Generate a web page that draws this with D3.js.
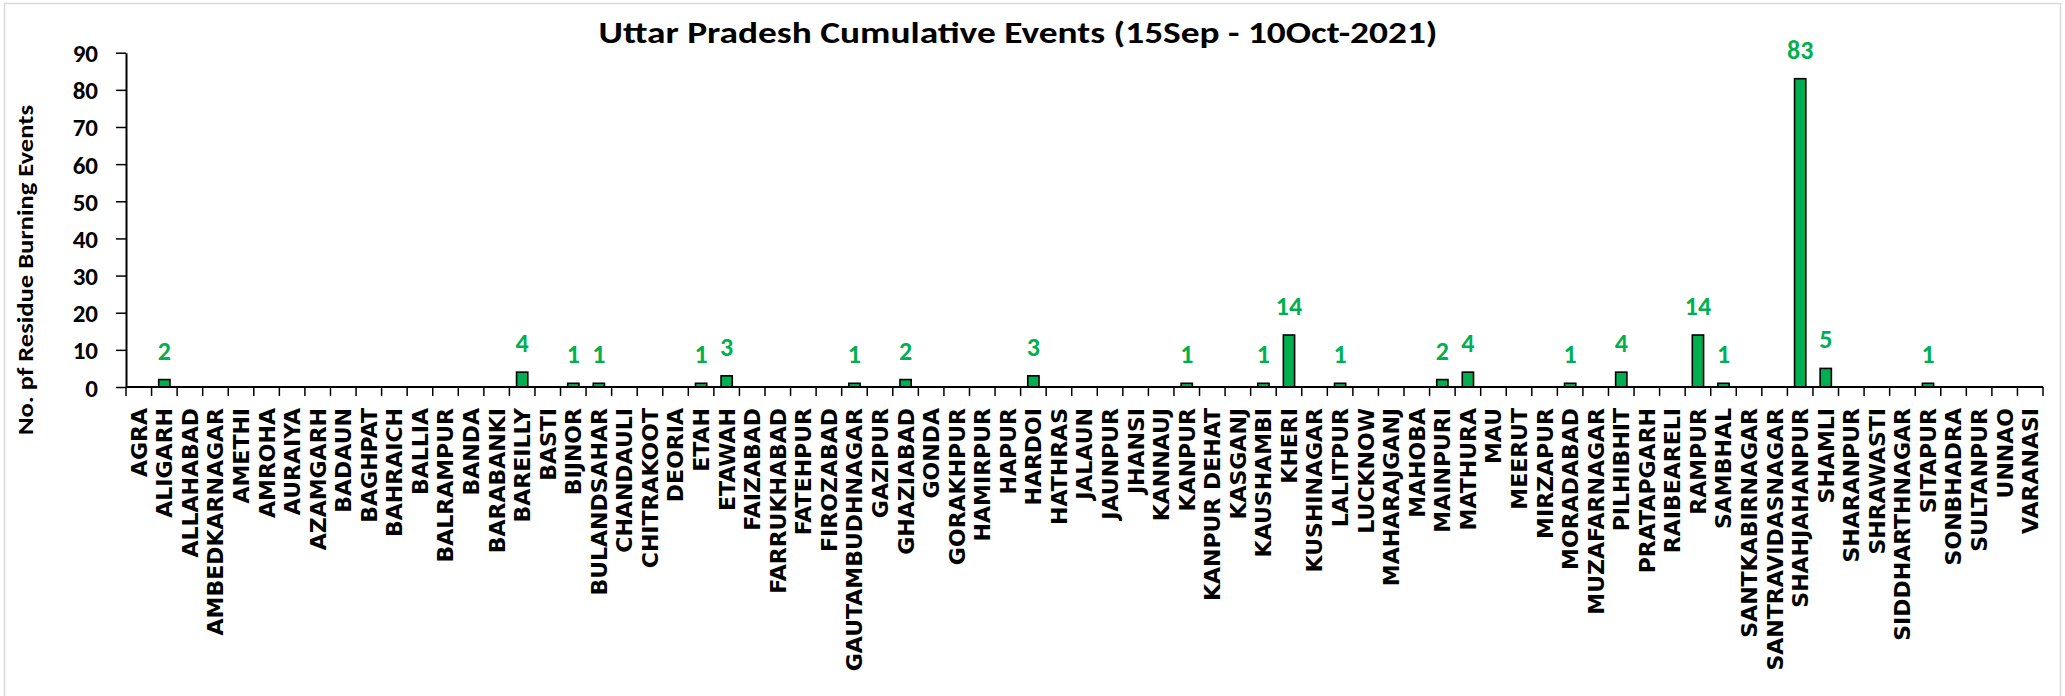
<!DOCTYPE html>
<html>
<head>
<meta charset="utf-8">
<script src="https://cdn.jsdelivr.net/npm/d3@7"></script>
<style>
  body { margin: 0; background: #fff; }
  svg { display: block; }
</style>
</head>
<body>
<svg class="chart" width="2065" height="696"></svg>
<script>
const districts = ["AGRA", "ALIGARH", "ALLAHABAD", "AMBEDKARNAGAR", "AMETHI", "AMROHA", "AURAIYA", "AZAMGARH",
  "BADAUN", "BAGHPAT", "BAHRAICH", "BALLIA", "BALRAMPUR", "BANDA", "BARABANKI", "BAREILLY", "BASTI", "BIJNOR",
  "BULANDSAHAR", "CHANDAULI", "CHITRAKOOT", "DEORIA", "ETAH", "ETAWAH", "FAIZABAD", "FARRUKHABAD", "FATEHPUR",
  "FIROZABAD", "GAUTAMBUDHNAGAR", "GAZIPUR", "GHAZIABAD", "GONDA", "GORAKHPUR", "HAMIRPUR", "HAPUR", "HARDOI",
  "HATHRAS", "JALAUN", "JAUNPUR", "JHANSI", "KANNAUJ", "KANPUR", "KANPUR DEHAT", "KASGANJ", "KAUSHAMBI", "KHERI",
  "KUSHINAGAR", "LALITPUR", "LUCKNOW", "MAHARAJGANJ", "MAHOBA", "MAINPURI", "MATHURA", "MAU", "MEERUT", "MIRZAPUR",
  "MORADABAD", "MUZAFARNAGAR", "PILHIBHIT", "PRATAPGARH", "RAIBEARELI", "RAMPUR", "SAMBHAL", "SANTKABIRNAGAR",
  "SANTRAVIDASNAGAR", "SHAHJAHANPUR", "SHAMLI", "SHARANPUR", "SHRAWASTI", "SIDDHARTHNAGAR", "SITAPUR", "SONBHADRA",
  "SULTANPUR", "UNNAO", "VARANASI"];

const events = [0, 2, 0, 0, 0, 0, 0, 0,
  0, 0, 0, 0, 0, 0, 0, 4, 0, 1,
  1, 0, 0, 0, 1, 3, 0, 0, 0,
  0, 1, 0, 2, 0, 0, 0, 0, 3,
  0, 0, 0, 0, 0, 1, 0, 0, 1, 14,
  0, 1, 0, 0, 0, 2, 4, 0, 0, 0,
  1, 0, 4, 0, 0, 14, 1, 0,
  0, 83, 5, 0, 0, 0, 1, 0,
  0, 0, 0];

const yTicks = [0, 10, 20, 30, 40, 50, 60, 70, 80, 90];

const title = "Uttar Pradesh Cumulative Events (15Sep - 10Oct-2021)";
const yLabel = "No. pf Residue Burning Events";

const data = districts.map((d, i) => ({district: d, value: events[i]}));

const calibri = "Calibri, Carlito, Lato, sans-serif";
const labelFont = "'DejaVu Sans', Verdana, sans-serif";
const green = "#00B050";

const svg = d3.select("svg.chart");

// outer chart border
svg.append("rect")
  .attr("x", 4.5).attr("y", 3.5)
  .attr("width", 2056).attr("height", 700)
  .style("fill", "none")
  .style("stroke", "#d9d9d9")
  .style("stroke-width", "1.5px");

const plot = {left: 126, right: 2043, top: 52.7, bottom: 387};

const x = d3.scaleBand()
  .domain(districts)
  .range([plot.left, plot.right])
  .paddingInner(0.56)
  .paddingOuter(0.28);

const y = d3.scaleLinear()
  .domain([0, 90])
  .range([plot.bottom, plot.top]);

// y axis
const yAxis = svg.append("g")
  .attr("transform", `translate(${plot.left},0)`)
  .call(d3.axisLeft(y).tickValues(yTicks).tickSize(10).tickPadding(18).tickSizeOuter(0));

yAxis.select(".domain").style("stroke", "#000").style("stroke-width", "2px");
yAxis.selectAll(".tick line").style("stroke", "#000").style("stroke-width", "1.5px");
yAxis.selectAll(".tick text")
  .style("font-family", calibri)
  .style("font-weight", "bold")
  .style("font-size", "25px")
  .style("fill", "#000")
  .attr("dy", "0.36em");

// bars
svg.selectAll("rect.bar")
  .data(data)
  .enter()
  .append("rect")
  .attr("class", "bar")
  .attr("x", d => x(d.district))
  .attr("y", d => y(d.value))
  .attr("width", x.bandwidth())
  .attr("height", d => y(0) - y(d.value))
  .style("fill", green)
  .style("stroke", "#000")
  .style("stroke-width", "1.6px");

// x axis with ticks between categories
const step = x.step();
const xAxis = svg.append("g")
  .attr("transform", `translate(0,${plot.bottom})`);

xAxis.append("line")
  .attr("x1", plot.left).attr("x2", plot.right)
  .attr("y1", 0).attr("y2", 0)
  .style("stroke", "#000")
  .style("stroke-width", "2px");

xAxis.selectAll("line.sep")
  .data(d3.range(districts.length + 1))
  .enter()
  .append("line")
  .attr("class", "sep")
  .attr("x1", i => plot.left + i * step)
  .attr("x2", i => plot.left + i * step)
  .attr("y1", 0).attr("y2", 9)
  .style("stroke", "#000")
  .style("stroke-width", "1.5px");

xAxis.selectAll("text.cat")
  .data(districts)
  .enter()
  .append("text")
  .attr("class", "cat")
  .attr("transform", d => `translate(${x(d) + x.bandwidth() / 2}, 21) rotate(-90)`)
  .attr("dy", "0.36em")
  .style("text-anchor", "end")
  .style("font-family", labelFont)
  .style("font-weight", "bold")
  .style("font-size", "22px")
  .style("fill", "#000")
  .text(d => d);

// value labels
svg.selectAll("text.val")
  .data(data.filter(d => d.value > 0))
  .enter()
  .append("text")
  .attr("class", "val")
  .attr("x", d => x(d.district) + x.bandwidth() / 2)
  .attr("y", d => y(d.value) - 20)
  .style("text-anchor", "middle")
  .style("font-family", calibri)
  .style("font-weight", "bold")
  .style("font-size", "26px")
  .style("fill", green)
  .text(d => d.value);

// title
svg.append("text")
  .attr("x", 1018)
  .attr("y", 43)
  .attr("textLength", 839)
  .attr("lengthAdjust", "spacingAndGlyphs")
  .style("text-anchor", "middle")
  .style("font-family", calibri)
  .style("font-weight", "bold")
  .style("font-size", "31px")
  .style("fill", "#000")
  .text(title);

// y axis title
svg.append("text")
  .attr("transform", `translate(33,270) rotate(-90)`)
  .attr("textLength", 330)
  .attr("lengthAdjust", "spacingAndGlyphs")
  .style("text-anchor", "middle")
  .style("font-family", calibri)
  .style("font-weight", "bold")
  .style("font-size", "22px")
  .style("fill", "#000")
  .text(yLabel);
</script>
</body>
</html>
